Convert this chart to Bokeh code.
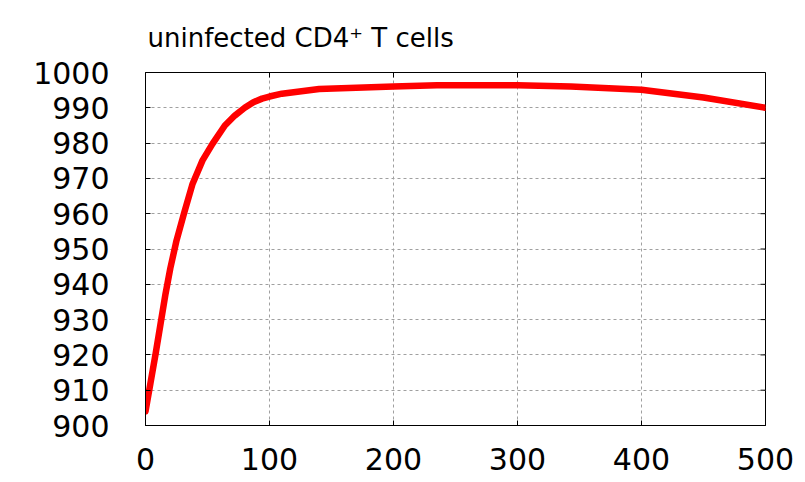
import math
from bokeh.plotting import figure
from bokeh.models import Range1d, FixedTicker
from bokeh.embed import file_html
from bokeh.resources import INLINE

# data
time = [0, 4, 8, 12, 16, 20, 25, 31, 38, 46, 54, 64, 72, 80, 87, 94, 100, 110,
        140, 200, 235, 300, 343, 400, 450, 500]
cells = [904, 912, 920, 928.5, 937, 944.5, 952.4, 960, 968.5, 975.1, 979.8,
         985, 987.8, 990, 991.6, 992.6, 993.2, 994, 995.3, 996, 996.4, 996.4,
         996, 995.1, 992.9, 990]
x_ticks = [0, 100, 200, 300, 400, 500]
y_ticks = [900, 910, 920, 930, 940, 950, 960, 970, 980, 990, 1000]
title_text = "uninfected CD4\u207a T cells"

FONT = "DejaVu Sans"

p = figure(frame_width=620, frame_height=353,
           min_border_left=145, min_border_right=40,
           min_border_top=72, min_border_bottom=57,
           x_range=Range1d(x_ticks[0], x_ticks[-1]),
           y_range=Range1d(y_ticks[0], y_ticks[-1]),
           output_backend="svg", toolbar_location=None,
           title=title_text)

p.title.text_font = FONT
p.title.text_font_size = "26px"
p.title.text_font_style = "normal"
p.title.text_color = "black"
p.title.align = "left"
p.title.vertical_align = "top"
p.title.offset = 2
p.title.standoff = 36

p.outline_line_color = "black"
p.outline_line_width = 1
p.background_fill_color = "white"
p.border_fill_color = "white"

for ax, ticks in ((p.xaxis[0], x_ticks), (p.yaxis[0], y_ticks)):
    ax.ticker = FixedTicker(ticks=ticks)
    ax.major_tick_in = 5
    ax.major_tick_out = 0
    ax.minor_tick_line_color = None
    ax.axis_line_color = "black"
    ax.major_tick_line_color = "black"
    ax.major_label_text_font = FONT
    ax.major_label_text_font_size = "30px"
    ax.major_label_text_color = "black"

p.xaxis.major_label_standoff = 22
p.yaxis.major_label_standoff = 36

p.xgrid.ticker = FixedTicker(ticks=x_ticks)
p.ygrid.ticker = FixedTicker(ticks=y_ticks)
for g in (p.xgrid, p.ygrid):
    g.grid_line_color = "#a0a0a0"
    g.grid_line_dash = "3 3"
    g.grid_line_width = 1

# mirror ticks on the top and right edges (screen-length rays from the tick values)
p.ray(x=x_ticks, y=[y_ticks[-1]] * len(x_ticks), length=5, length_units="screen",
      angle=-math.pi / 2, line_color="black", line_width=1)
p.ray(x=[x_ticks[-1]] * len(y_ticks), y=y_ticks, length=5, length_units="screen",
      angle=math.pi, line_color="black", line_width=1)

p.line(time, cells, line_width=6.5, line_color="#ff0000", line_cap="round",
       line_join="round")

open("out.html", "w").write(file_html(p, INLINE))
